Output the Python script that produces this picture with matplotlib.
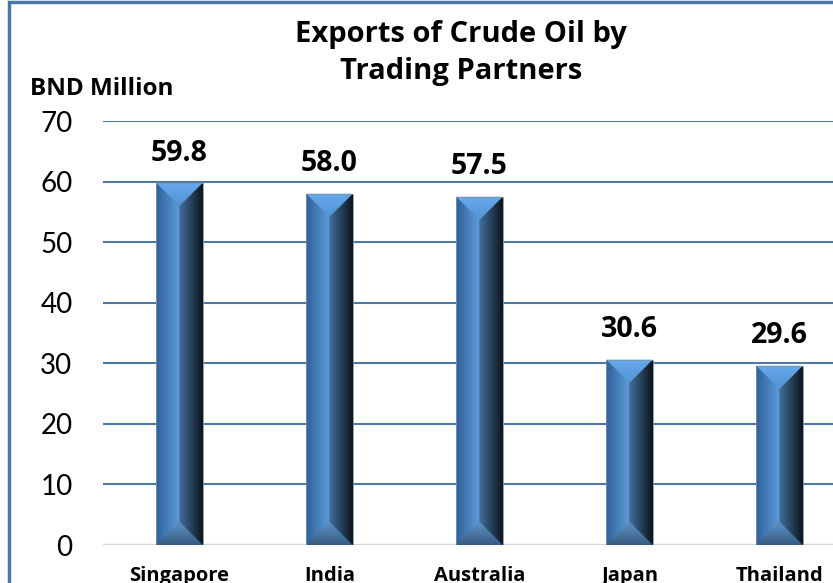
import numpy as np
import matplotlib.pyplot as plt
from matplotlib.colors import LinearSegmentedColormap
from matplotlib.patches import Polygon, Rectangle

partners = ['Singapore', 'India', 'Australia', 'Japan', 'Thailand']
exports = [59.8, 58.0, 57.5, 30.6, 29.6]
y_ticks = [0, 10, 20, 30, 40, 50, 60, 70]

plt.rcParams['font.family'] = ['Lato', 'DejaVu Sans']
BOLD = ['Open Sans', 'DejaVu Sans']

W, H = 833, 583
fig = plt.figure(figsize=(W / 100, H / 100), dpi=100)
# plot area runs past the right edge, like the cropped original
ax = fig.add_axes([103 / W, 38 / H, 750 / W, 424 / H])

x = np.arange(len(partners))
bw = 0.31
bars = ax.bar(x, exports, width=bw, color='none', edgecolor='none', zorder=3)
ax.set_xlim(-0.51, 4.49)
ax.set_ylim(0, 70)

# bevelled bar look: side faces as horizontal gradient, triangles top/bottom
face = LinearSegmentedColormap.from_list('face', [
    (0.0, '#30609a'), (0.49, '#5c9bd8'), (0.5, '#426f9a'), (1.0, '#0c141c')])
top_cm = LinearSegmentedColormap.from_list('top', ['#5592d2', '#66aaee'])
bot_cm = LinearSegmentedColormap.from_list('bot', ['#375c80', '#5e93c8'])
hgrad = np.linspace(0, 1, 256).reshape(1, -1)
vgrad = np.linspace(0, 1, 256).reshape(-1, 1)

# depth of the bevel (half bar width, in y data units)
px = ax.transData.transform([(0, 0), (1, 1)])
d = (bw / 2) * (px[1, 0] - px[0, 0]) / (px[1, 1] - px[0, 1])

for b, v in zip(bars, exports):
    x0, x1 = b.get_x(), b.get_x() + b.get_width()
    xc = (x0 + x1) / 2
    im = ax.imshow(hgrad, cmap=face, extent=[x0, x1, 0, v], aspect='auto',
                   zorder=3, interpolation='bilinear')
    im.set_clip_path(b)
    tri = Polygon([(x0, v), (x1, v), (xc, v - d)], closed=True,
                  facecolor='none', edgecolor='none', transform=ax.transData)
    ax.add_patch(tri)
    im2 = ax.imshow(vgrad[::-1], cmap=top_cm, extent=[x0, x1, v - d, v],
                    aspect='auto', zorder=4, interpolation='bilinear')
    im2.set_clip_path(tri)
    tri2 = Polygon([(x0, 0), (x1, 0), (xc, d)], closed=True,
                   facecolor='none', edgecolor='none', transform=ax.transData)
    ax.add_patch(tri2)
    im3 = ax.imshow(vgrad[::-1], cmap=bot_cm, extent=[x0, x1, 0, d],
                    aspect='auto', zorder=4, interpolation='bilinear')
    im3.set_clip_path(tri2)
    ax.add_patch(Rectangle((x0, 0), x1 - x0, v, facecolor='none',
                           edgecolor='#7f93a8', lw=0.6, zorder=5))

ax.set_xlim(-0.51, 4.49)
ax.set_ylim(0, 70)

ax.bar_label(bars, labels=[f'{v:.1f}' for v in exports], padding=11,
             fontsize=20.5, fontweight='bold', family=BOLD, color='black')

ax.set_yticks(y_ticks)
ax.set_xticks(x)
ax.set_xticklabels(partners, fontsize=14.5, fontweight='bold', family=BOLD)
ax.tick_params(axis='y', length=0, pad=22, labelsize=20)
ax.tick_params(axis='x', length=0, pad=15)
for s in ax.spines.values():
    s.set_visible(False)
ax.set_axisbelow(True)
ax.yaxis.grid(True, color='#4e78a3', lw=1.5)
ax.axhline(0, color='#d6d6d6', lw=1.5, zorder=2)

fig.text(0.553, 1 - 53 / H, 'Exports of Crude Oil by\nTrading Partners',
         ha='center', va='center', fontsize=21, fontweight='bold',
         family=BOLD, linespacing=1.4)
fig.text(30 / W, 1 - 89 / H, 'BND Million', ha='left', va='center',
         fontsize=17.5, fontweight='bold', family=BOLD)

fig.patches.append(Rectangle((9 / W, -0.5), 2, 0.5 + 1 - 2 / H, fill=False,
                             edgecolor='#4a76a8', lw=2.5,
                             transform=fig.transFigure, figure=fig))

fig.savefig('out.png', dpi=100)
